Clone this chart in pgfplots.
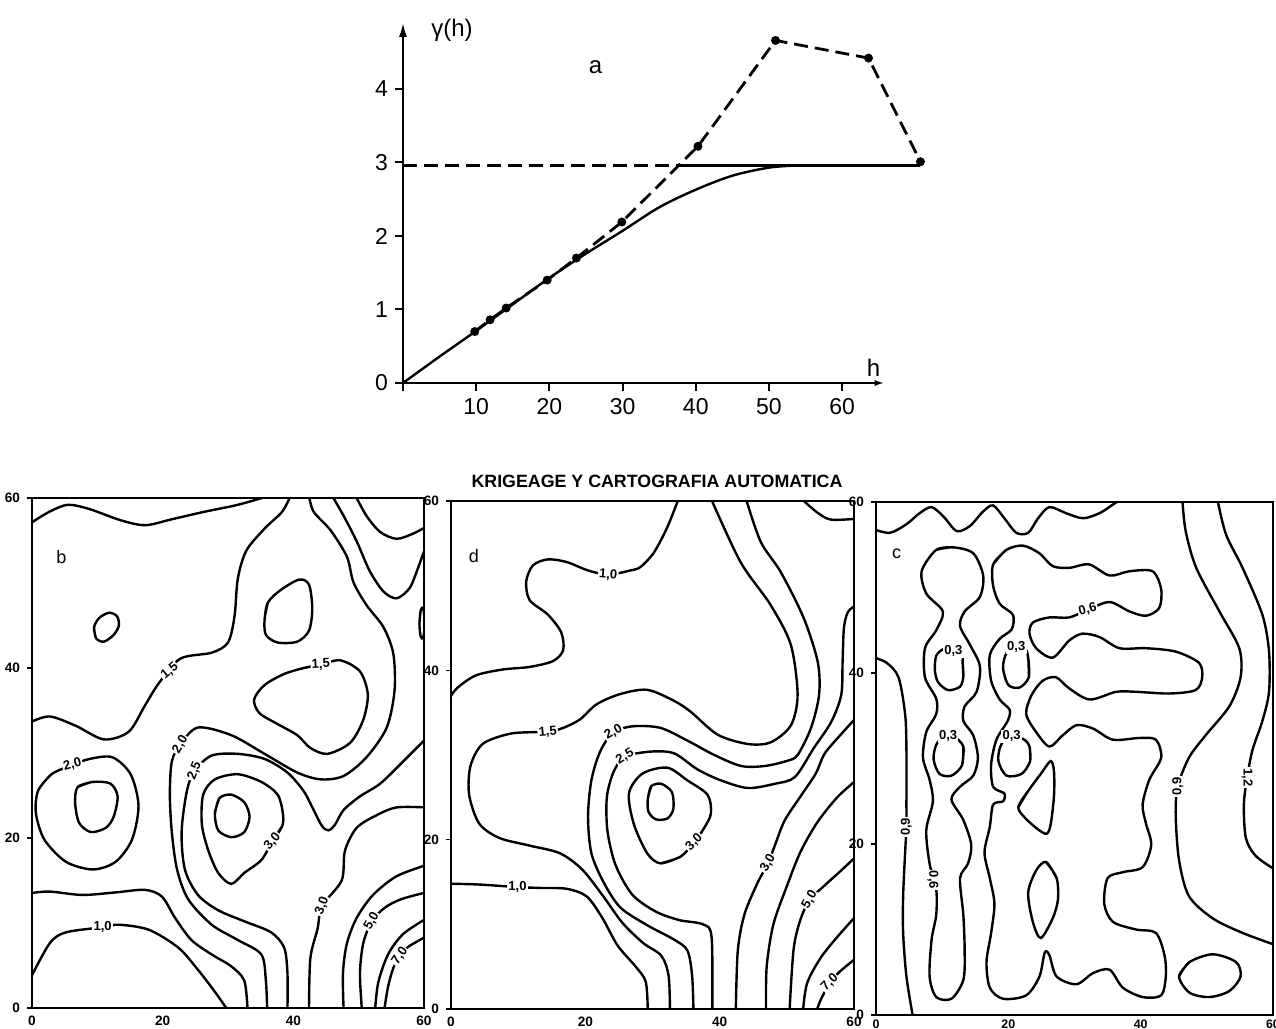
\documentclass[border=0pt]{standalone}
\usepackage{fontspec}
\setmainfont{Liberation Sans}
\usepackage{pgfplots}
\pgfplotsset{compat=1.18}
\usetikzlibrary{arrows.meta}
\tikzset{cl/.style={fill=white, inner sep=0.6pt, font=\bfseries\fontsize{6.5}{7}\selectfont}}
\pgfplotsset{panel/.style={
  scale only axis, anchor=south west,
  xmin=0,xmax=60,ymin=0,ymax=60,
  axis line style={line width=1.2pt},
  xtick={0,20,40,60}, ytick={0,20,40,60},
  tick pos=left, tick align=outside,
  xtick style={draw=none}, ytick style={line width=0.8pt,black},
  major tick length=2.5pt,
  ticklabel style={font=\bfseries\fontsize{6.8}{8}\selectfont},
  xticklabel style={anchor=north, inner sep=0.5pt, yshift=-0.6pt},
  /pgf/number format/assume math mode=true,
  cycle list={black,solid,line width=1.2pt,smooth,tension=0.5,no marks\\},
}}
\begin{document}
\begin{tikzpicture}
\fill[white] (0pt,0pt) rectangle (638pt,514.5pt);
\path[use as bounding box] (0pt,0pt) rectangle (638pt,514.5pt);

% ---------------- top: variogram ----------------
\begin{axis}[
  at={(201.5pt,323pt)}, anchor=south west,
  scale only axis, width=240.8pt, height=180.1pt,
  xmin=0,xmax=65.8,ymin=0,ymax=4.9,
  axis lines=left,
  axis line style={line width=1.1pt},
  x axis line style={-{Latex[length=5pt,width=3pt]}},
  y axis line style={-{Latex[length=7pt,width=4pt]}},
  xtick={0,10,20,30,40,50,60}, xticklabels={,10,20,30,40,50,60},
  ytick={0,1,2,3,4},
  tick align=outside, major tick length=4pt, tick style={line width=1pt, black},
  ticklabel style={font=\fontsize{11.5}{13}\selectfont},
  /pgf/number format/assume math mode=true,
  clip=false,
]
\addplot[line width=1.2pt, smooth, no marks] coordinates {(0,0) (5,0.36) (10,0.71) (15,1.07) (20,1.43) (25,1.76) (30,2.07) (35,2.39) (40,2.63) (45,2.82) (50,2.93) (54,2.96)};
\addplot[line width=1.2pt, no marks] coordinates {(37.7,2.96) (70.7,2.96)};
\addplot[line width=1.3pt, dash pattern=on 7pt off 3.5pt, no marks] coordinates {(0,2.96) (37.7,2.96)};
\addplot[line width=1.4pt, dash pattern=on 7pt off 3.5pt, mark=*, mark size=1.5pt, mark options={solid}] coordinates {(9.8,0.70) (11.9,0.86) (14.1,1.02) (19.7,1.40) (23.7,1.70) (29.9,2.19) (40.3,3.22) (50.9,4.66) (63.6,4.42) (70.7,3.01)};
\node[font=\fontsize{12}{14}\selectfont] at (axis cs:26.3,4.3) {a};
\node[anchor=west, font=\fontsize{12}{14}\selectfont] at (axis cs:2.9,4.80) {γ(h)};
\node[font=\fontsize{12}{14}\selectfont] at (axis cs:64.3,0.2) {h};
\end{axis}

\node[font=\bfseries\fontsize{8.9}{10}\selectfont] at (328.5pt,274pt) {KRIGEAGE Y CARTOGRAFIA AUTOMATICA};

% ---------------- panel b ----------------
\begin{axis}[panel, at={(16pt,10.5pt)}, width=196pt, height=255pt]
\addplot coordinates {(-0.3,57.0) (2.7,58.4) (5.5,59.2) (8.8,58.7) (13.5,57.4) (17.3,56.8) (21.4,57.5) (26.5,58.4) (31.5,59.2) (36.5,60.3)};
\addplot coordinates {(-0.3,33.6) (2.7,34.3) (6.7,33.2) (11.0,31.6) (14.8,32.5) (17.3,35.6) (19.4,38.2) (22.7,41.1) (27.5,41.8) (30.0,43.0) (31.0,46.1) (31.5,50.5) (32.8,53.8) (35.6,56.4) (38.3,58.4) (39.6,60.3)};
\addplot coordinates {(9.8,43.5) (9.5,44.8) (10.3,45.9) (11.8,46.5) (13.0,46.1) (13.3,45.0) (12.5,43.9) (11.0,43.1) (9.8,43.5) (9.5,44.8)};
\addplot coordinates {(35.6,45.7) (36.1,47.7) (38.1,49.2) (40.9,50.4) (42.4,49.8) (42.9,47.0) (42.4,44.4) (40.6,43.1) (37.6,43.0) (35.8,43.9) (35.6,45.7) (36.1,47.7)};
\addplot coordinates {(41.6,40.0) (44.2,40.4) (47.2,40.9) (50.2,39.6) (51.4,36.9) (50.7,33.9) (48.7,31.2) (45.2,29.9) (42.6,30.6) (40.6,32.1) (37.6,33.4) (34.8,34.7) (34.0,36.3) (35.6,38.0) (38.6,39.3) (41.6,40.0) (44.2,40.4)};
\addplot coordinates {(36.0,-0.3) (35.8,3.2) (35.1,6.3) (31.5,8.0) (27.5,9.8) (23.9,12.8) (22.2,16.3) (21.4,20.7) (21.1,25.1) (21.4,29.0) (22.7,31.0) (25.4,33.0) (30.5,32.1) (35.6,29.9) (40.6,27.7) (44.2,26.9) (47.7,27.3) (51.2,29.5) (54.3,33.0) (55.5,37.4) (55.3,41.7) (53.8,44.8) (51.2,47.4) (49.2,50.1) (48.2,53.1) (45.7,56.2) (43.1,58.4) (42.4,60.3)};
\addplot coordinates {(39.1,-0.3) (39.1,4.1) (38.6,7.1) (36.6,8.9) (32.5,10.2) (28.5,11.5) (25.4,13.3) (23.4,16.3) (22.9,20.7) (23.7,25.5) (24.9,27.9) (27.5,29.7) (31.5,29.9) (35.6,29.3) (39.1,27.7) (41.6,25.5) (43.1,23.3) (44.4,21.4) (45.4,20.9) (46.4,21.6) (47.7,23.3) (50.2,24.9) (53.3,26.4) (56.8,29.0) (60.3,31.7)};
\addplot coordinates {(38.3,21.4) (36.8,19.6) (35.1,17.4) (32.5,15.9) (30.5,14.6) (28.5,15.9) (27.0,18.5) (26.0,21.6) (26.2,25.1) (28.0,26.9) (31.5,27.5) (35.1,26.6) (37.6,25.1) (38.4,22.9) (38.3,21.4) (36.8,19.6)};
\addplot coordinates {(28.0,22.9) (28.7,24.7) (30.5,25.1) (32.5,24.2) (33.3,22.5) (32.5,20.7) (30.5,20.1) (28.5,20.9) (28.0,22.9) (28.7,24.7)};
\addplot coordinates {(3.9,27.9) (6.2,28.6) (8.8,29.3) (12.3,29.5) (15.1,27.5) (16.3,23.8) (15.3,19.8) (12.8,17.2) (9.3,16.3) (5.2,17.2) (1.9,19.8) (0.6,22.9) (0.9,25.5) (2.7,27.3) (3.9,27.9) (6.2,28.6)};
\addplot coordinates {(7.0,26.0) (9.3,26.6) (12.0,26.4) (13.1,24.9) (12.5,22.5) (11.3,21.2) (9.0,20.7) (7.2,21.8) (6.6,24.2) (7.0,26.0) (9.3,26.6)};
\addplot coordinates {(-0.3,13.5) (2.7,13.7) (7.7,13.3) (12.8,13.6) (17.3,13.9) (19.9,13.1) (21.9,10.6) (24.4,8.0) (27.5,6.3) (30.5,4.9) (32.5,3.2) (33.0,-0.3)};
\addplot coordinates {(-0.3,3.4) (2.7,7.6) (5.2,8.9) (10.8,9.5) (13.3,9.8) (17.9,9.2) (22.4,7.1) (25.4,4.5) (28.0,1.9) (30.0,-0.3)};
\addplot coordinates {(45.9,60.3) (47.7,57.9) (49.7,54.9) (51.7,51.4) (53.8,49.0) (55.8,48.2) (57.8,49.4) (59.1,51.8) (60.3,54.4)};
\addplot coordinates {(49.5,60.3) (51.2,57.9) (53.3,56.0) (55.8,55.2) (58.3,55.8) (60.3,56.6)};
\addplot coordinates {(59.3,45.2) (59.5,46.8) (59.9,47.0) (60.1,45.2) (59.9,43.6) (59.5,43.7) (59.3,45.2) (59.5,46.8)};
\addplot coordinates {(42.4,-0.3) (42.6,5.8) (43.7,9.3) (44.4,12.0) (47.4,15.0) (47.9,18.5) (49.7,21.2) (52.8,22.7) (55.8,23.6) (60.3,23.6)};
\addplot coordinates {(47.7,-0.3) (47.6,4.1) (48.2,7.6) (49.7,10.6) (52.2,13.3) (55.8,15.5) (60.3,16.8)};
\addplot coordinates {(50.5,-0.3) (50.2,4.1) (50.7,7.6) (52.0,10.2) (54.0,11.8) (56.5,12.8) (60.3,13.6)};
\addplot coordinates {(52.5,-0.3) (53.0,3.0) (54.5,6.3) (56.8,8.7) (60.3,10.5)};
\addplot coordinates {(53.9,-0.3) (54.5,2.5) (55.3,4.7) (56.3,6.1) (57.6,7.2) (60.3,8.4)};
\node[font=\fontsize{9}{10}\selectfont] at (axis cs:4.5,53.1) {b};
\node[cl, rotate=40] at (axis cs:21.1,39.6) {1,5};
\node[cl, rotate=3] at (axis cs:44.2,40.4) {1,5};
\node[cl, rotate=60] at (axis cs:22.7,31.0) {2,0};
\node[cl, rotate=70] at (axis cs:24.9,27.9) {2,5};
\node[cl, rotate=15] at (axis cs:6.2,28.6) {2,0};
\node[cl, rotate=50] at (axis cs:36.8,19.6) {3,0};
\node[cl, rotate=70] at (axis cs:44.4,12.0) {3,0};
\node[cl, rotate=60] at (axis cs:52.0,10.2) {5,0};
\node[cl, rotate=55] at (axis cs:56.3,6.1) {7,0};
\node[cl] at (axis cs:10.8,9.5) {1,0};
\end{axis}

% ---------------- panel d ----------------
\begin{axis}[panel, at={(225.5pt,10pt)}, width=201.5pt, height=254pt]
\addplot coordinates {(-0.3,36.6) (0.9,37.9) (3.7,39.4) (7.7,40.1) (11.7,40.4) (15.2,41.1) (16.7,42.4) (16.4,44.5) (14.4,46.6) (11.7,48.3) (11.2,50.5) (12.2,52.4) (14.4,53.1) (17.2,52.8) (20.4,51.8) (23.4,51.3) (26.7,51.8) (28.2,52.2) (30.2,53.9) (32.2,56.9) (33.9,60.3)};
\addplot coordinates {(32.6,-0.3) (32.4,3.9) (31.3,6.3) (28.6,7.8) (25.5,10.2) (22.5,13.5) (19.5,16.5) (16.2,18.4) (11.7,19.3) (7.2,20.2) (4.2,21.9) (2.7,25.3) (2.9,28.7) (4.7,31.3) (8.7,32.5) (12.4,32.7) (14.4,32.7) (16.7,33.2) (19.2,34.2) (21.7,36.0) (25.2,37.2) (29.2,37.7) (33.2,36.4) (35.7,35.1) (39.7,32.4) (44.2,31.3) (47.6,31.5) (50.6,33.5) (51.6,37.1) (50.6,43.0) (47.6,47.7) (43.1,52.8) (38.7,60.3)};
\addplot coordinates {(36.1,-0.3) (35.9,3.9) (35.2,6.9) (33.2,8.2) (29.2,9.9) (25.2,12.0) (22.7,15.0) (20.9,18.4) (20.4,22.7) (20.9,27.0) (22.2,30.4) (24.2,32.7) (27.2,33.4) (31.2,33.2) (35.2,31.7) (39.2,30.0) (43.2,28.7) (46.7,28.7) (50.0,29.3) (51.6,30.0) (53.6,33.2) (54.8,37.1) (54.6,41.0) (52.5,46.2) (49.1,51.6) (46.1,55.2) (43.9,60.3)};
\addplot coordinates {(38.9,-0.3) (38.8,8.5) (37.5,10.0) (34.0,10.5) (30.5,11.5) (27.0,13.5) (24.5,17.0) (23.3,21.0) (23.2,25.0) (24.2,28.0) (25.9,29.8) (29.7,30.4) (33.2,30.2) (36.7,28.3) (40.2,27.0) (44.2,26.1) (48.2,26.6) (51.2,27.4) (54.0,30.8) (56.6,33.9) (58.1,37.1) (58.3,41.0) (58.5,45.0) (59.1,46.9) (60.3,47.7)};
\addplot coordinates {(34.2,18.0) (31.2,17.2) (29.2,18.4) (27.2,21.9) (26.5,25.5) (28.5,27.8) (32.2,28.5) (35.2,27.0) (38.2,25.3) (38.7,23.1) (37.7,21.4) (36.2,19.7) (34.2,18.0) (31.2,17.2)};
\addplot coordinates {(29.3,24.8) (29.8,26.3) (31.3,26.6) (32.9,25.6) (33.1,23.6) (32.2,22.5) (30.5,22.4) (29.4,23.3) (29.3,24.8) (29.8,26.3)};
\addplot coordinates {(-0.3,14.8) (4.2,14.7) (9.9,14.4) (13.2,14.3) (17.2,14.2) (20.2,13.3) (22.5,10.8) (24.8,7.5) (27.5,5.0) (29.0,3.2) (29.3,-0.3)};
\addplot coordinates {(42.4,-0.3) (42.7,6.9) (43.7,11.2) (45.7,15.0) (47.2,17.2) (48.3,19.5) (49.7,22.3) (52.2,25.3) (54.3,27.8) (55.5,30.0) (57.0,31.5) (60.3,34.4)};
\addplot coordinates {(46.9,-0.3) (47.0,5.0) (48.0,10.0) (50.0,14.5) (52.0,18.5) (54.5,22.0) (57.5,25.0) (60.3,27.0)};
\addplot coordinates {(50.4,-0.3) (51.0,7.0) (52.0,10.5) (53.4,12.9) (55.5,14.5) (58.0,16.3) (60.3,18.0)};
\addplot coordinates {(52.4,-0.3) (53.0,3.0) (55.0,6.0) (57.5,8.5) (60.3,11.0)};
\addplot coordinates {(54.4,-0.3) (55.0,1.0) (56.4,3.1) (58.0,4.5) (60.3,6.0)};
\addplot coordinates {(52.1,60.3) (54.6,58.6) (56.6,57.8) (60.3,57.9)};
\node[font=\fontsize{9}{10}\selectfont] at (axis cs:3.4,53.5) {d};
\node[cl, rotate=-5] at (axis cs:23.4,51.3) {1,0};
\node[cl, rotate=5] at (axis cs:14.4,32.7) {1,5};
\node[cl, rotate=30] at (axis cs:24.2,32.7) {2,0};
\node[cl, rotate=30] at (axis cs:25.9,29.8) {2,5};
\node[cl, rotate=45] at (axis cs:36.2,19.7) {3,0};
\node[cl, rotate=60] at (axis cs:47.2,17.2) {3,0};
\node[cl, rotate=60] at (axis cs:53.4,12.9) {5,0};
\node[cl, rotate=45] at (axis cs:56.4,3.1) {7,0};
\node[cl] at (axis cs:9.9,14.4) {1,0};
\end{axis}

% ---------------- panel c ----------------
\begin{axis}[panel, at={(438pt,7pt)}, width=198.5pt, height=256.5pt, xticklabel style={font=\bfseries\fontsize{6.2}{7}\selectfont, yshift=1.4pt}]
\addplot coordinates {(-0.3,56.8) (2.1,56.4) (4.6,57.4) (6.6,58.7) (8.4,59.4) (10.2,58.3) (12.2,56.6) (14.2,57.2) (16.2,58.9) (17.7,59.6) (19.4,58.1) (21.2,56.4) (23.0,56.4) (24.5,58.1) (26.2,59.4) (28.7,58.7) (31.3,58.1) (33.8,58.7) (35.8,59.7) (37.0,60.3)};
\addplot coordinates {(-0.3,41.8) (1.6,41.2) (3.4,39.5) (4.4,35.2) (4.6,31.0) (4.6,24.6) (4.6,22.0) (4.4,19.0) (4.1,13.9) (4.1,9.6) (4.6,4.5) (5.6,-0.3)};
\addplot coordinates {(9.1,54.4) (11.7,54.7) (14.7,54.0) (16.2,51.4) (15.7,48.9) (13.4,47.2) (12.7,45.5) (14.2,43.3) (15.7,40.8) (15.2,37.8) (13.4,36.1) (13.2,34.4) (14.7,32.7) (15.4,30.1) (14.7,28.0) (12.7,26.7) (11.4,25.2) (13.2,22.8) (14.4,19.9) (13.9,17.7) (12.7,16.0) (13.2,11.7) (13.4,7.5) (13.2,4.1) (11.4,1.9) (9.1,2.1) (8.1,4.5) (8.4,8.8) (9.1,11.7) (9.1,14.7) (8.1,17.7) (7.6,21.6) (8.6,25.0) (8.1,27.5) (7.1,30.1) (7.6,33.1) (9.1,35.2) (9.1,37.0) (7.4,39.5) (7.4,42.9) (9.1,45.0) (10.1,47.2) (7.6,49.3) (6.9,51.9) (9.1,54.4) (11.7,54.7)};
\addplot coordinates {(13.1,41.1) (13.2,39.6) (12.7,38.4) (10.9,38.0) (9.4,38.9) (8.9,40.3) (9.1,42.0) (10.2,42.8) (11.7,42.9) (13.0,42.4) (13.1,41.1) (13.2,39.6)};
\addplot coordinates {(13.2,31.4) (13.0,29.2) (11.4,28.0) (9.6,28.2) (8.7,29.9) (9.1,31.6) (10.2,32.5) (11.7,32.6) (13.2,31.4) (13.0,29.2)};
\addplot coordinates {(23.0,41.8) (23.1,39.5) (21.7,38.3) (20.0,38.6) (19.2,40.6) (19.7,42.3) (21.0,43.0) (22.5,42.9) (23.0,41.8) (23.1,39.5)};
\addplot coordinates {(23.2,31.4) (23.3,29.7) (22.0,28.2) (19.7,28.0) (18.5,29.7) (18.8,31.4) (19.9,32.5) (22.2,32.3) (23.2,31.4) (23.3,29.7)};
\addplot coordinates {(17.7,52.7) (19.7,54.4) (22.2,54.9) (24.7,54.0) (26.7,52.5) (29.2,52.3) (32.2,52.7) (35.3,51.4) (38.3,51.9) (41.8,51.9) (43.1,49.8) (42.8,47.6) (40.8,46.7) (38.3,47.2) (35.3,48.3) (32.0,47.4) (29.2,46.5) (26.2,46.5) (23.7,45.9) (23.2,44.6) (24.2,42.9) (26.7,41.8) (29.2,43.8) (31.2,44.6) (33.8,44.2) (36.8,42.9) (40.8,42.9) (45.3,42.5) (48.8,41.2) (49.3,39.5) (48.3,38.0) (44.3,37.6) (39.3,37.8) (36.3,37.8) (32.3,36.9) (29.2,38.2) (27.2,39.5) (25.2,39.1) (23.5,37.4) (22.7,35.2) (24.2,33.1) (26.2,31.4) (28.2,32.7) (30.3,33.9) (32.8,33.5) (35.8,32.2) (39.8,32.4) (42.3,32.2) (43.1,30.1) (41.3,27.5) (40.3,24.6) (40.8,22.4) (41.6,19.9) (40.3,17.3) (37.3,16.7) (35.0,16.0) (34.5,13.0) (35.8,10.9) (39.3,10.0) (42.3,9.6) (43.6,7.0) (43.8,4.5) (43.1,2.3) (40.3,2.1) (37.3,3.2) (35.3,5.3) (32.8,4.9) (30.3,3.6) (27.3,4.5) (26.2,7.0) (25.5,7.3) (24.7,4.5) (22.7,2.3) (19.2,1.9) (17.2,3.2) (16.7,6.2) (17.4,9.6) (17.9,13.0) (17.2,16.0) (16.4,19.0) (17.2,22.0) (17.7,24.6) (19.2,25.0) (19.4,25.9) (17.7,26.7) (17.4,29.3) (18.2,32.2) (19.9,34.4) (20.2,35.7) (18.7,36.9) (17.4,39.1) (17.2,42.1) (18.7,44.0) (20.5,45.1) (20.7,46.8) (18.7,48.1) (17.7,50.2) (17.7,52.7) (19.7,54.4)};
\addplot coordinates {(21.5,24.3) (23.0,26.2) (25.0,28.3) (26.4,29.7) (26.9,28.5) (26.9,25.6) (26.4,22.3) (25.8,21.2) (24.5,21.7) (22.6,23.0) (21.5,24.3) (23.0,26.2)};
\addplot coordinates {(25.7,17.9) (27.3,16.0) (27.5,13.5) (26.7,11.3) (24.9,9.0) (23.7,10.9) (23.0,14.3) (24.2,16.9) (25.7,17.9) (27.3,16.0)};
\addplot coordinates {(45.8,4.5) (47.4,6.2) (50.9,7.1) (54.4,6.2) (55.1,4.5) (53.4,2.8) (50.4,2.1) (47.4,2.6) (45.8,4.5) (47.4,6.2)};
\addplot coordinates {(46.3,60.3) (46.8,56.6) (48.4,52.3) (51.9,47.2) (54.9,42.9) (55.1,39.5) (53.4,36.1) (49.8,32.7) (47.3,30.1) (45.6,26.7) (45.3,23.3) (45.8,18.1) (47.3,13.9) (50.9,11.3) (55.4,9.6) (60.3,8.2)};
\addplot coordinates {(51.6,60.3) (52.9,56.2) (55.4,52.3) (58.4,46.8) (59.4,42.5) (59.4,37.8) (58.4,34.4) (56.9,31.0) (56.1,27.8) (55.6,24.6) (55.9,20.7) (57.4,18.6) (60.3,17.0)};
\node[font=\fontsize{9}{10}\selectfont] at (axis cs:3.1,54.0) {c};
\node[cl] at (axis cs:11.7,42.6) {0,3};
\node[cl] at (axis cs:10.9,32.6) {0,3};
\node[cl] at (axis cs:21.2,43.0) {0,3};
\node[cl] at (axis cs:20.5,32.6) {0,3};
\node[cl, rotate=15] at (axis cs:32.0,47.4) {0,6};
\node[cl, rotate=90] at (axis cs:4.6,22.0) {0,9};
\node[cl, rotate=-90] at (axis cs:8.6,15.8) {0,6};
\node[cl, rotate=90] at (axis cs:45.6,26.7) {0,9};
\node[cl, rotate=-90] at (axis cs:56.1,27.8) {1,2};
\end{axis}
\end{tikzpicture}
\end{document}
